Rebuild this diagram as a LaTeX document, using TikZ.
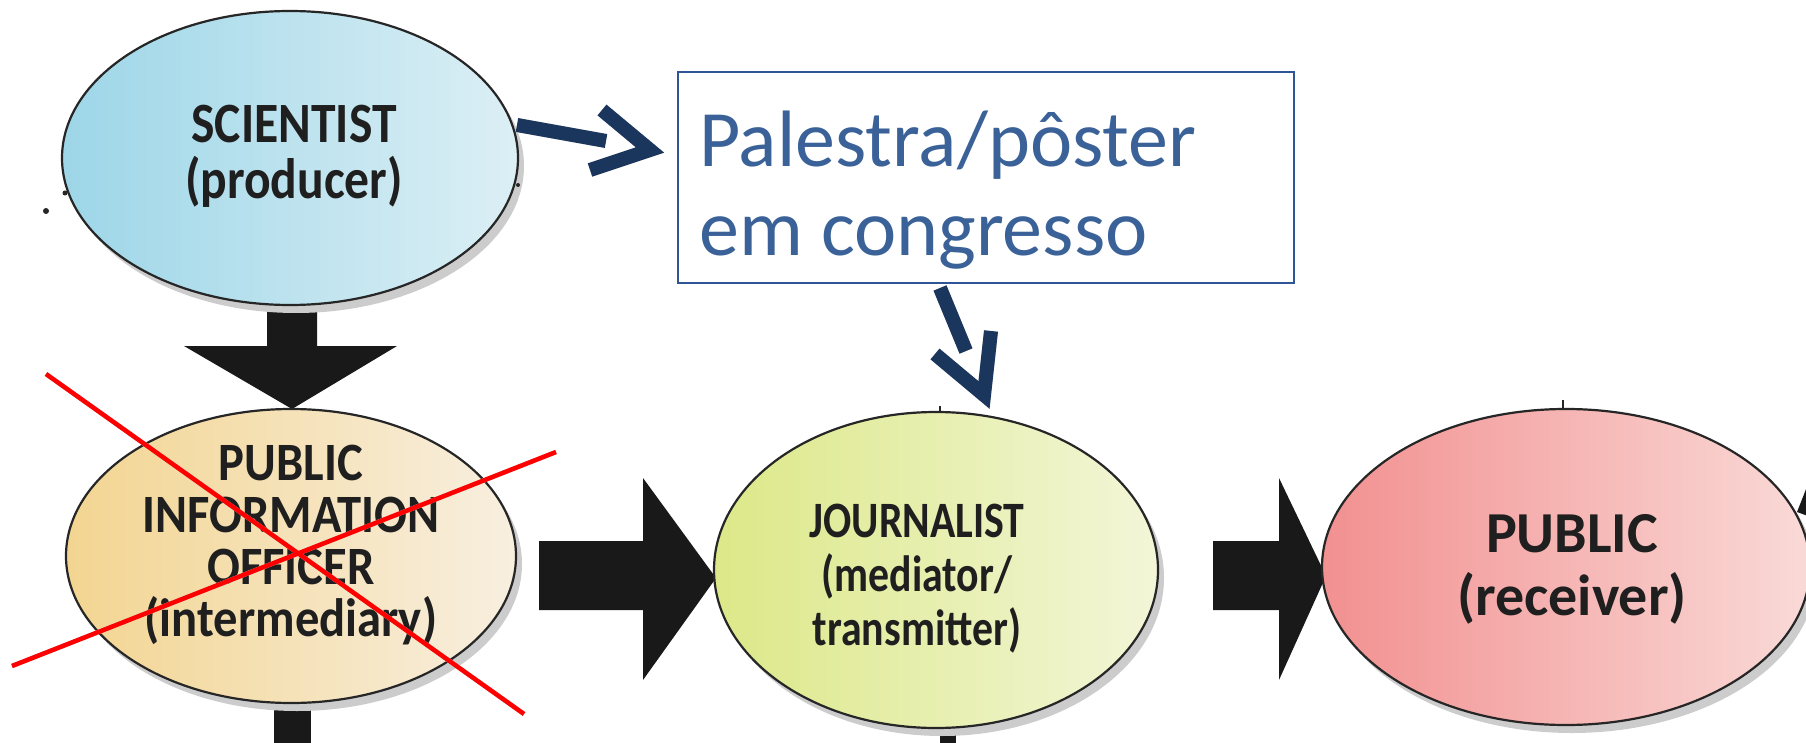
\documentclass[tikz,border=0pt]{standalone}
\usepackage{fontspec}
\newfontfamily\lbl{Carlito}
\newfontfamily\lblA{Carlito}[FakeStretch=0.87]
\newfontfamily\lblB{Carlito}[FakeStretch=0.82]
\newfontfamily\lblC{Carlito}[FakeStretch=0.9]
\usetikzlibrary{shapes.geometric}
\definecolor{navy}{HTML}{1B365D}
\definecolor{boxblue}{HTML}{2F5597}
\definecolor{txtblue}{HTML}{3A6298}
\definecolor{sciL}{HTML}{9DD6E8}
\definecolor{sciR}{HTML}{DCEFF5}
\definecolor{pioL}{HTML}{F3D591}
\definecolor{pioR}{HTML}{F8EFE0}
\definecolor{jouL}{HTML}{DCE888}
\definecolor{jouR}{HTML}{F3F6D8}
\definecolor{pubL}{HTML}{F29090}
\definecolor{pubR}{HTML}{F9DAD7}
\begin{document}
\begin{tikzpicture}[x=1pt,y=-1pt,
  oval/.style={ellipse, draw=black!85, line width=2.2pt, inner sep=0pt},
  shadowoval/.style={ellipse, fill=black!20, inner sep=0pt},
  lab/.style={align=center, text=black!88, inner sep=0pt},
  blk/.style={fill=black!90},
  navyline/.style={draw=navy, line width=14pt, line join=miter},
  navyshadow/.style={draw=black!22, line width=14pt, line join=miter},
  redx/.style={draw=red, line width=4.5pt},
  redshadow/.style={draw=black!22, line width=4.5pt},
  dot/.style={fill=black!85}]
\useasboundingbox (0,0) rectangle (1806,743);
\clip (0,0) rectangle (1806,743);
\fill[white] (0,0) rectangle (1806,743);

% black block arrows and stubs
\fill[blk] (267,295) -- (317,295) -- (317,346) -- (397,346) -- (292,409) -- (184,346) -- (267,346) -- cycle;
\fill[blk] (539,541) -- (643,541) -- (643,478) -- (716,578) -- (643,680) -- (643,610) -- (539,610) -- cycle;
\fill[blk] (1213,541) -- (1279,541) -- (1279,478) -- (1326,576) -- (1279,680) -- (1279,610) -- (1213,610) -- cycle;
\fill[blk] (274,690) rectangle (311,743);
\fill[blk] (940,715) rectangle (956,743);
\fill[blk] (1797,512) -- (1808,484) -- (1808,516) -- cycle;

% shadows
\node[shadowoval, minimum width=456pt, minimum height=294pt] at (296,166) {};
\node[shadowoval, minimum width=450pt, minimum height=294pt] at (297,564) {};
\node[shadowoval, minimum width=444pt, minimum height=316pt] at (942,578) {};
\node[shadowoval, minimum width=488pt, minimum height=316pt] at (1572,575) {};

% ellipses
\node[oval, left color=sciL, right color=sciR, minimum width=456pt, minimum height=294pt] (sci) at (290,158) {};
\node[oval, left color=pioL, right color=pioR, minimum width=450pt, minimum height=294pt] (pio) at (291,556) {};
\node[oval, left color=jouL, right color=jouR, minimum width=444pt, minimum height=316pt] (jou) at (936,570) {};
\node[oval, left color=pubL, right color=pubR, minimum width=488pt, minimum height=316pt] (pub) at (1566,567) {};

% labels
\node[lab, font=\lblA\bfseries\fontsize{57}{56}\selectfont] (scit) at (294,156) {SCIENTIST\\(producer)};
\node[lab, font=\lblC\bfseries\fontsize{54}{52}\selectfont] (piot) at (291,545) {PUBLIC\\INFORMATION\\OFFICER\\(intermediary)};
\node[lab, font=\lblB\bfseries\fontsize{51}{54}\selectfont] (jout) at (917,579) {JOURNALIST\\(mediator/\\transmitter)};
\node[lab, font=\lbl\bfseries\fontsize{58}{63}\selectfont] (pubt) at (1572,569) {PUBLIC\\(receiver)};

% small marks
\fill[dot] (65,193) circle (2.5);
\fill[dot] (46,211) circle (3);
\fill[dot] (518,185) circle (2);
\draw[black!85, line width=2pt] (940,406) -- (940,413);
\draw[black!85, line width=2pt] (1563,400) -- (1563,409);

% box
\node[draw=boxblue, line width=1.8pt, fill=white, minimum width=616pt, minimum height=211pt, inner sep=0pt, anchor=north west] (box) at (677,71) {};
\node[anchor=base west, inner sep=0pt, text=txtblue, font=\lbl\fontsize{80}{89}\selectfont] (t1) at (699,167) {Palestra/pôster};
\node[anchor=base west, inner sep=0pt, text=txtblue, font=\lbl\fontsize{80}{89}\selectfont] (t2) at (699,256) {em congresso};

% navy arrows
\coordinate (a1s) at (517,125);
\coordinate (a1e) at (606,141);
\coordinate (c1a) at (602,110);
\coordinate (c1t) at (650,150);
\coordinate (c1b) at (590,170);
\coordinate (a2s) at (940,288);
\coordinate (a2e) at (966,351);
\coordinate (c2a) at (935,354);
\coordinate (c2t) at (984,395);
\coordinate (c2b) at (991,331);
\begin{scope}[shift={(3,4)}]
\draw[navyshadow] (a1s) -- (a1e);
\draw[navyshadow] (c1a) -- (c1t) -- (c1b);
\draw[navyshadow] (a2s) -- (a2e);
\draw[navyshadow] (c2a) -- (c2t) -- (c2b);
\end{scope}
\draw[navyline] (a1s) -- (a1e);
\draw[navyline] (c1a) -- (c1t) -- (c1b);
\draw[navyline] (a2s) -- (a2e);
\draw[navyline] (c2a) -- (c2t) -- (c2b);

% red cross
\coordinate (x1a) at (46,374);
\coordinate (x1b) at (524,714);
\coordinate (x2a) at (12,666);
\coordinate (x2b) at (556,452);
\begin{scope}[shift={(2,3)}]
\draw[redshadow] (x1a) -- (x1b);
\draw[redshadow] (x2a) -- (x2b);
\end{scope}
\draw[redx] (x1a) -- (x1b);
\draw[redx] (x2a) -- (x2b);
\end{tikzpicture}
\end{document}
